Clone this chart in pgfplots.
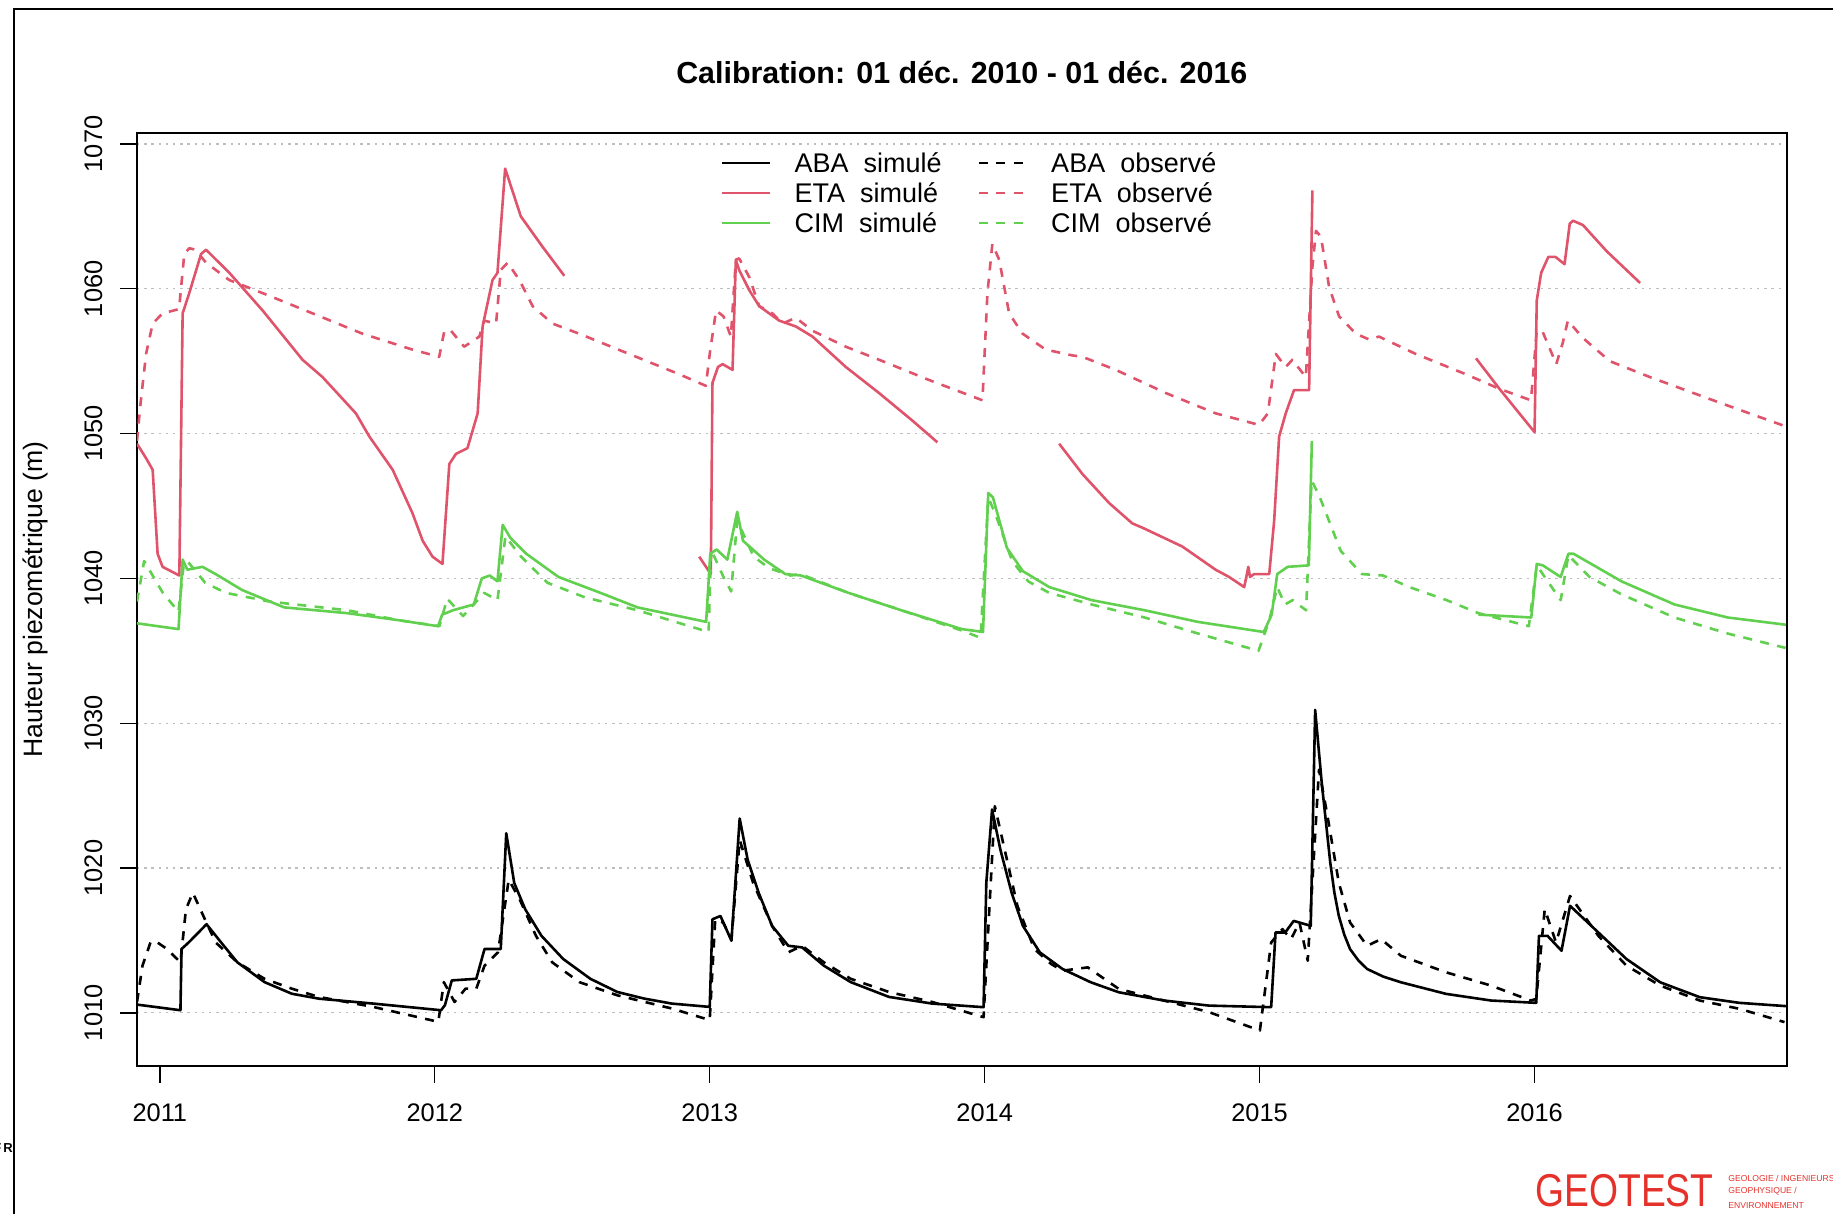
\documentclass[border=0pt]{standalone}
\usepackage{fontspec}
\setmainfont{Liberation Sans}
\usepackage{graphicx}
\usepackage{pgfplots}
\pgfplotsset{compat=1.18}
\definecolor{etared}{HTML}{DF536B}
\definecolor{cimgreen}{HTML}{61D04F}
\definecolor{gridgray}{HTML}{BEBEBE}
\definecolor{logored}{HTML}{E4322B}
\begin{document}
\begin{tikzpicture}
\path[use as bounding box] (0pt,0pt) rectangle (916.5pt,607pt);
\draw[line width=1pt] (7pt,0pt) -- (7pt,602.5pt) -- (916.5pt,602.5pt);
\node[anchor=east, inner sep=0pt, font=\bfseries\fontsize{6.5}{7}\selectfont] at (6.6pt,33pt) {F\,R};
\node[anchor=west, inner sep=0pt, text=logored] at (767.5pt,11.5pt) {\scalebox{0.81}[1]{\fontsize{23}{23}\selectfont GEOTEST}};
\node[anchor=west, inner sep=0pt, text=logored, font=\fontsize{4.3}{5}\selectfont] at (864pt,18pt) {GEOLOGIE / INGENIEURS};
\node[anchor=west, inner sep=0pt, text=logored, font=\fontsize{4.3}{5}\selectfont] at (864pt,11.2pt) {GEOPHYSIQUE /};
\node[anchor=west, inner sep=0pt, text=logored, font=\fontsize{4.3}{5}\selectfont] at (864pt,4.4pt) {ENVIRONNEMENT};
\begin{axis}[
  at={(68.5pt,74pt)}, anchor=south west,
  scale only axis, width=824.85pt, height=466.5pt,
  xmin=2010.917, xmax=2016.917, ymin=1006.33, ymax=1070.76,
  xtick={2011,2012,2013,2014,2015,2016},
  xticklabels={2011,2012,2013,2014,2015,2016},
  ytick={1010,1020,1030,1040,1050,1060,1070},
  yticklabels={1010,1020,1030,1040,1050,1060,1070},
  /pgf/number format/assume math mode=true,
  tick pos=left, tick align=outside, major tick length=8.3pt,
  every tick/.append style={black, line width=0.7pt},
  axis line style={line width=1pt},
  xticklabel style={font=\fontsize{12.7}{15}\selectfont, anchor=center, yshift=-15.2pt},
  yticklabel style={font=\fontsize{12.7}{15}\selectfont, xshift=-13.5pt, rotate=90, anchor=center},
  ymajorgrids=true,
  major grid style={gridgray, line width=0.6pt, dash pattern=on 1.2pt off 2.4pt},
  title={Calibration: 01 déc. 2010 - 01 déc. 2016},
  title style={font=\bfseries\fontsize{15.2}{18}\selectfont, at={(axis description cs:0.5,1)}, anchor=center, yshift=24.1pt},
  ylabel={Hauteur piezométrique (m)},
  ylabel style={font=\fontsize{13.3}{16}\selectfont, at={(axis description cs:-0.0615,0.5)}, anchor=center},
  legend columns=2,
  legend cell align=left,
  legend image code/.code={\draw[#1] (0pt,0pt) -- (24pt,0pt);},
  legend style={at={(axis description cs:0.354,0.984)}, anchor=north west, draw=none, fill=none,
    inner sep=0pt, outer sep=0pt, row sep=0pt, font=\fontsize{13.5}{16}\selectfont,
    nodes={inner sep=0pt, text height=12.35pt, text depth=2.65pt},
    /tikz/every odd column/.style={column sep=11.5pt},
    /tikz/every even column/.style={column sep=18pt}},
]
\addlegendimage{line width=1.3pt, black}
\addlegendentry{ABA\ \ simulé}
\addlegendimage{line width=1.3pt, black, dash pattern=on 4.5pt off 4.2pt}
\addlegendentry{ABA\ \ observé}
\addlegendimage{line width=1.3pt, etared}
\addlegendentry{ETA\ \ simulé}
\addlegendimage{line width=1.3pt, etared, dash pattern=on 4.5pt off 4.2pt}
\addlegendentry{ETA\ \ observé}
\addlegendimage{line width=1.3pt, cimgreen}
\addlegendentry{CIM\ \ simulé}
\addlegendimage{line width=1.3pt, cimgreen, dash pattern=on 4.5pt off 4.2pt}
\addlegendentry{CIM\ \ observé}

% ABA simulated
\addplot[line width=1.3pt, line join=round, black, forget plot] coordinates {
(2010.917,1010.57) (2011.075,1010.18) (2011.079,1014.41) (2011.105,1014.86) (2011.170,1016.12)
(2011.223,1014.86) (2011.282,1013.49) (2011.381,1012.12) (2011.480,1011.32) (2011.578,1010.98)
(2011.776,1010.64) (2012.023,1010.18) (2012.037,1010.53) (2012.062,1012.24) (2012.151,1012.35)
(2012.181,1014.41) (2012.240,1014.41) (2012.260,1022.40) (2012.289,1018.97) (2012.329,1017.15)
(2012.388,1015.32) (2012.467,1013.72) (2012.566,1012.35) (2012.664,1011.44) (2012.763,1010.98)
(2012.862,1010.64) (2013.000,1010.41) (2013.010,1016.46) (2013.039,1016.69) (2013.079,1014.98)
(2013.109,1023.42) (2013.138,1020.57) (2013.178,1018.29) (2013.227,1016.00) (2013.286,1014.63)
(2013.336,1014.52) (2013.415,1013.26) (2013.513,1012.12) (2013.652,1011.10) (2013.809,1010.64)
(2013.996,1010.39) (2014.006,1018.99) (2014.027,1024.04) (2014.057,1021.28) (2014.098,1018.30)
(2014.139,1016.01) (2014.201,1014.17) (2014.283,1013.03) (2014.386,1012.11) (2014.488,1011.42)
(2014.652,1010.85) (2014.816,1010.50) (2015.042,1010.39) (2015.058,1015.55) (2015.093,1015.55)
(2015.124,1016.35) (2015.186,1016.01) (2015.202,1030.92) (2015.226,1025.87) (2015.257,1020.37)
(2015.272,1018.30) (2015.288,1016.70) (2015.308,1015.40) (2015.329,1014.40) (2015.360,1013.60)
(2015.391,1013.03) (2015.450,1012.50) (2015.514,1012.11) (2015.678,1011.31)
(2015.842,1010.85) (2016.006,1010.69) (2016.016,1015.32) (2016.047,1015.32) (2016.098,1014.29)
(2016.129,1017.39) (2016.232,1015.55) (2016.334,1013.72) (2016.457,1012.11) (2016.601,1011.08)
(2016.745,1010.69) (2016.917,1010.46)
};
% ABA observed
\addplot[line width=1.3pt, line join=round, black, dash pattern=on 4.5pt off 4.2pt, forget plot] coordinates {
(2010.917,1010.75) (2010.937,1013.26) (2010.966,1014.86) (2010.982,1014.98) (2011.026,1014.41)
(2011.075,1013.49) (2011.095,1017.15) (2011.120,1018.29) (2011.164,1016.46) (2011.203,1014.86)
(2011.282,1013.49) (2011.381,1012.35) (2011.480,1011.67) (2011.578,1011.10) (2011.776,1010.41)
(2012.013,1009.38) (2012.033,1012.12) (2012.072,1010.75) (2012.112,1011.67) (2012.151,1011.67)
(2012.181,1013.26) (2012.230,1014.18) (2012.269,1019.20) (2012.309,1017.83) (2012.368,1015.32)
(2012.427,1013.49) (2012.526,1012.12) (2012.664,1011.21) (2012.862,1010.30) (2013.000,1009.50)
(2013.020,1016.46) (2013.049,1016.23) (2013.079,1015.09) (2013.109,1021.94) (2013.158,1018.97)
(2013.227,1016.00) (2013.286,1014.18) (2013.336,1014.63) (2013.415,1013.49) (2013.513,1012.35)
(2013.652,1011.44) (2013.809,1010.75) (2013.996,1009.70) (2014.037,1024.27) (2014.078,1020.83)
(2014.119,1017.39) (2014.181,1014.40) (2014.242,1013.37) (2014.283,1012.91) (2014.375,1013.14)
(2014.488,1011.65) (2014.652,1010.85) (2014.816,1010.05) (2015.001,1008.78) (2015.042,1014.86)
(2015.083,1015.78) (2015.114,1015.09) (2015.145,1016.24) (2015.175,1013.60) (2015.216,1026.79)
(2015.247,1023.58) (2015.288,1018.99) (2015.329,1016.24) (2015.391,1014.63) (2015.442,1015.09)
(2015.514,1013.94) (2015.678,1012.80) (2015.842,1011.88) (2015.986,1010.85) (2016.006,1010.96)
(2016.037,1017.16) (2016.078,1014.86) (2016.129,1018.07) (2016.232,1015.32) (2016.334,1013.26)
(2016.457,1011.88) (2016.601,1010.85) (2016.745,1010.28) (2016.909,1009.36)
};
% ETA simulated (segments)
\addplot[line width=1.3pt, line join=round, etared, forget plot] coordinates {
(2010.917,1049.3) (2010.950,1048.3) (2010.974,1047.5) (2010.992,1041.7) (2011.010,1040.8)
(2011.071,1040.2) (2011.083,1058.3) (2011.107,1059.7) (2011.150,1062.4) (2011.168,1062.7)
(2011.253,1061.1) (2011.374,1058.5) (2011.519,1055.1) (2011.592,1053.9) (2011.713,1051.4)
(2011.762,1049.8) (2011.847,1047.5) (2011.919,1044.5) (2011.956,1042.6) (2011.992,1041.5)
(2012.028,1041.0) (2012.053,1047.9) (2012.077,1048.6) (2012.119,1049.0) (2012.156,1051.4)
(2012.174,1057.4) (2012.210,1060.6) (2012.228,1061.1) (2012.256,1068.3) (2012.313,1065.0)
(2012.392,1062.9) (2012.471,1060.9)
};
\addplot[line width=1.3pt, line join=round, etared, forget plot] coordinates {
(2012.962,1041.5) (2013.004,1040.3) (2013.010,1053.5) (2013.030,1054.6) (2013.047,1054.8)
(2013.083,1054.4) (2013.095,1062.0) (2013.107,1061.3) (2013.144,1059.9) (2013.180,1058.8)
(2013.253,1057.8) (2013.313,1057.4) (2013.374,1056.7) (2013.495,1054.6) (2013.616,1052.8)
(2013.737,1050.9) (2013.828,1049.4)
};
\addplot[line width=1.3pt, line join=round, etared, forget plot] coordinates {
(2014.271,1049.3) (2014.356,1047.2) (2014.453,1045.2) (2014.537,1043.8) (2014.574,1043.5)
(2014.719,1042.2) (2014.840,1040.6) (2014.889,1040.1) (2014.944,1039.4) (2014.959,1040.8)
(2014.965,1040.1) (2014.980,1040.3) (2015.035,1040.3) (2015.053,1044.0) (2015.071,1049.8)
(2015.095,1051.4) (2015.125,1053.0) (2015.180,1053.0) (2015.192,1066.8)
};
\addplot[line width=1.3pt, line join=round, etared, forget plot] coordinates {
(2015.787,1055.2) (2015.872,1053.1) (2016.000,1050.1) (2016.008,1059.2) (2016.024,1061.1)
(2016.050,1062.2) (2016.076,1062.2) (2016.109,1061.7) (2016.128,1064.5) (2016.140,1064.7)
(2016.176,1064.4) (2016.262,1062.6) (2016.384,1060.4)
};
% ETA observed
\addplot[line width=1.3pt, line join=round, etared, dash pattern=on 4.5pt off 4.2pt, forget plot] coordinates {
(2010.917,1049.5) (2010.930,1052.1) (2010.950,1055.5) (2010.974,1057.6) (2011.010,1058.3)
(2011.070,1058.6) (2011.089,1062.4) (2011.107,1062.8) (2011.130,1062.7) (2011.168,1061.8)
(2011.253,1060.6) (2011.374,1059.7) (2011.556,1058.3) (2011.737,1056.9) (2011.919,1055.8)
(2012.016,1055.3) (2012.035,1057.1) (2012.059,1057.1) (2012.107,1056.0) (2012.162,1056.7)
(2012.180,1057.8) (2012.223,1057.6) (2012.240,1061.3) (2012.265,1061.8) (2012.308,1060.6)
(2012.356,1058.8) (2012.428,1057.6) (2012.525,1056.9) (2012.707,1055.5) (2012.889,1054.1)
(2012.986,1053.3) (2013.000,1055.5) (2013.023,1058.5) (2013.050,1058.1) (2013.077,1056.7)
(2013.095,1062.0) (2013.107,1062.1) (2013.144,1060.8) (2013.180,1058.8) (2013.228,1058.3)
(2013.265,1057.6) (2013.313,1058.0) (2013.374,1057.1) (2013.495,1056.0) (2013.616,1055.1)
(2013.798,1053.7) (2013.992,1052.3) (2014.010,1059.7) (2014.028,1063.1) (2014.053,1062.0)
(2014.089,1058.3) (2014.138,1056.9) (2014.222,1055.8) (2014.319,1055.4) (2014.356,1055.3)
(2014.477,1054.4) (2014.659,1052.8) (2014.840,1051.4) (2014.998,1050.6) (2015.030,1051.4)
(2015.059,1055.5) (2015.095,1054.6) (2015.119,1055.1) (2015.168,1053.9) (2015.192,1061.5)
(2015.205,1064.0) (2015.223,1063.6) (2015.253,1060.1) (2015.289,1058.1) (2015.350,1056.9)
(2015.398,1056.5) (2015.434,1056.7) (2015.568,1055.5) (2015.750,1054.1) (2015.871,1053.1)
(2015.987,1052.3) (2016.008,1057.1) (2016.030,1057.0) (2016.079,1054.8) (2016.103,1056.3)
(2016.121,1057.8) (2016.176,1056.6) (2016.274,1055.0) (2016.420,1053.9) (2016.664,1052.2)
(2016.913,1050.5)
};
% CIM simulated (segments)
\addplot[line width=1.3pt, line join=round, cimgreen, forget plot] coordinates {
(2010.917,1036.9) (2011.068,1036.5) (2011.083,1041.3) (2011.100,1040.6) (2011.155,1040.8)
(2011.203,1040.3) (2011.299,1039.2) (2011.452,1038.0) (2011.682,1037.6) (2011.874,1037.1)
(2012.012,1036.7) (2012.027,1037.5) (2012.066,1037.8) (2012.142,1038.2) (2012.171,1040.0)
(2012.200,1040.2) (2012.228,1039.8) (2012.247,1043.7) (2012.275,1042.8) (2012.333,1041.7)
(2012.450,1040.1) (2012.603,1039.0) (2012.737,1038.0) (2012.987,1037.0) (2013.002,1041.7)
(2013.025,1042.0) (2013.064,1041.3) (2013.100,1044.6) (2013.121,1042.6) (2013.198,1041.3)
(2013.275,1040.3) (2013.332,1040.2) (2013.505,1039.0) (2013.697,1037.8) (2013.917,1036.5)
(2013.994,1036.3) (2014.013,1045.9) (2014.030,1045.6) (2014.081,1042.1) (2014.139,1040.5)
(2014.235,1039.4) (2014.389,1038.5) (2014.582,1037.8) (2014.775,1037.0) (2015.015,1036.3)
(2015.044,1037.5) (2015.064,1040.3) (2015.102,1040.8) (2015.179,1040.9) (2015.190,1049.5)
};
\addplot[line width=1.3pt, line join=round, cimgreen, forget plot] coordinates {
(2015.796,1037.5) (2015.988,1037.3) (2016.008,1041.0) (2016.030,1040.9) (2016.095,1040.1)
(2016.123,1041.7) (2016.142,1041.7) (2016.316,1039.8) (2016.509,1038.2) (2016.703,1037.3)
(2016.914,1036.8)
};
% CIM observed
\addplot[line width=1.3pt, line join=round, cimgreen, dash pattern=on 4.5pt off 4.2pt, forget plot] coordinates {
(2010.917,1038.4) (2010.943,1041.2) (2011.011,1039.0) (2011.068,1037.7) (2011.086,1040.8)
(2011.100,1041.2) (2011.165,1039.7) (2011.240,1039.0) (2011.400,1038.4) (2011.682,1037.8)
(2011.874,1037.1) (2012.017,1036.7) (2012.045,1038.6) (2012.103,1037.4) (2012.180,1039.0)
(2012.228,1038.5) (2012.257,1042.9) (2012.314,1041.5) (2012.410,1039.7) (2012.545,1038.7)
(2012.737,1037.8) (2012.996,1036.3) (2013.005,1042.0) (2013.050,1040.1) (2013.078,1039.1)
(2013.100,1044.0) (2013.160,1041.5) (2013.217,1040.7) (2013.294,1040.2) (2013.330,1040.3)
(2013.505,1039.0) (2013.697,1037.8) (2013.917,1036.4) (2013.985,1035.9) (2014.013,1045.6)
(2014.040,1044.4) (2014.100,1041.2) (2014.158,1039.8) (2014.235,1039.0) (2014.389,1038.2)
(2014.582,1037.3) (2014.775,1036.2) (2014.996,1035.0) (2015.035,1037.1) (2015.064,1039.4)
(2015.092,1038.2) (2015.120,1038.5) (2015.169,1037.8) (2015.189,1046.75) (2015.215,1045.8)
(2015.256,1043.8) (2015.295,1041.9) (2015.372,1040.3) (2015.449,1040.2) (2015.545,1039.4)
(2015.680,1038.5) (2015.796,1037.6) (2015.979,1036.7) (2016.008,1040.9) (2016.095,1038.5)
(2016.123,1041.6) (2016.200,1040.1) (2016.316,1038.9) (2016.509,1037.3) (2016.701,1036.2)
(2016.913,1035.2)
};
\end{axis}
\end{tikzpicture}
\end{document}
